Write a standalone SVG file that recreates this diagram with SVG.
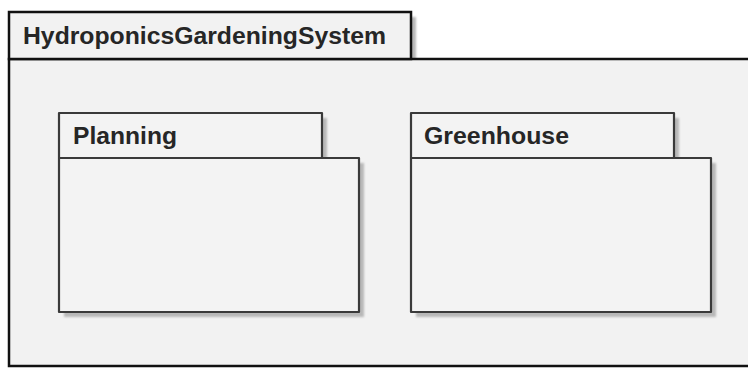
<svg xmlns="http://www.w3.org/2000/svg" width="748" height="368" viewBox="0 0 748 368">
  <defs>
    <filter id="soft" x="-10%" y="-10%" width="120%" height="120%">
      <feGaussianBlur stdDeviation="1.2"/>
    </filter>
  </defs>
  <style>
    .shadow { fill: #b8b8b8; filter: url(#soft); }
    .outer { fill: #f2f2f2; stroke: #111; stroke-width: 2.5; }
    .pkg { fill: #f3f3f3; stroke: #3a3a3a; stroke-width: 2.2; stroke-linejoin: round; }
    .label { font-family: "Liberation Sans", Arial, sans-serif; font-weight: bold; fill: #262626; }
  </style>
  <rect width="748" height="368" fill="#ffffff"/>

  <!-- outer package -->
  <g id="HydroponicsGardeningSystem">
    <rect class="shadow" x="14" y="17" width="402" height="47"/>
    <rect class="outer" x="9" y="59" width="760" height="307"/>
    <rect class="outer" x="9" y="12" width="402" height="47"/>
    <text class="label" x="23" y="44" font-size="23" textLength="363" lengthAdjust="spacingAndGlyphs">HydroponicsGardeningSystem</text>
  </g>

  <!-- nested packages -->
  <g id="Planning">
    <path class="shadow" d="M64 118 H327 V163 H364 V317 H64 Z"/>
    <rect class="pkg" x="59" y="158" width="300" height="154"/>
    <rect class="pkg" x="59" y="113" width="263" height="45"/>
    <text class="label" x="73" y="144" font-size="24" textLength="104" lengthAdjust="spacingAndGlyphs">Planning</text>
  </g>

  <g id="Greenhouse">
    <path class="shadow" d="M416 118 H679 V163 H716 V317 H416 Z"/>
    <rect class="pkg" x="411" y="158" width="300" height="154"/>
    <rect class="pkg" x="411" y="113" width="263" height="45"/>
    <text class="label" x="424" y="144" font-size="24" textLength="145" lengthAdjust="spacingAndGlyphs">Greenhouse</text>
  </g>

  <g id="connectors"/>
</svg>
